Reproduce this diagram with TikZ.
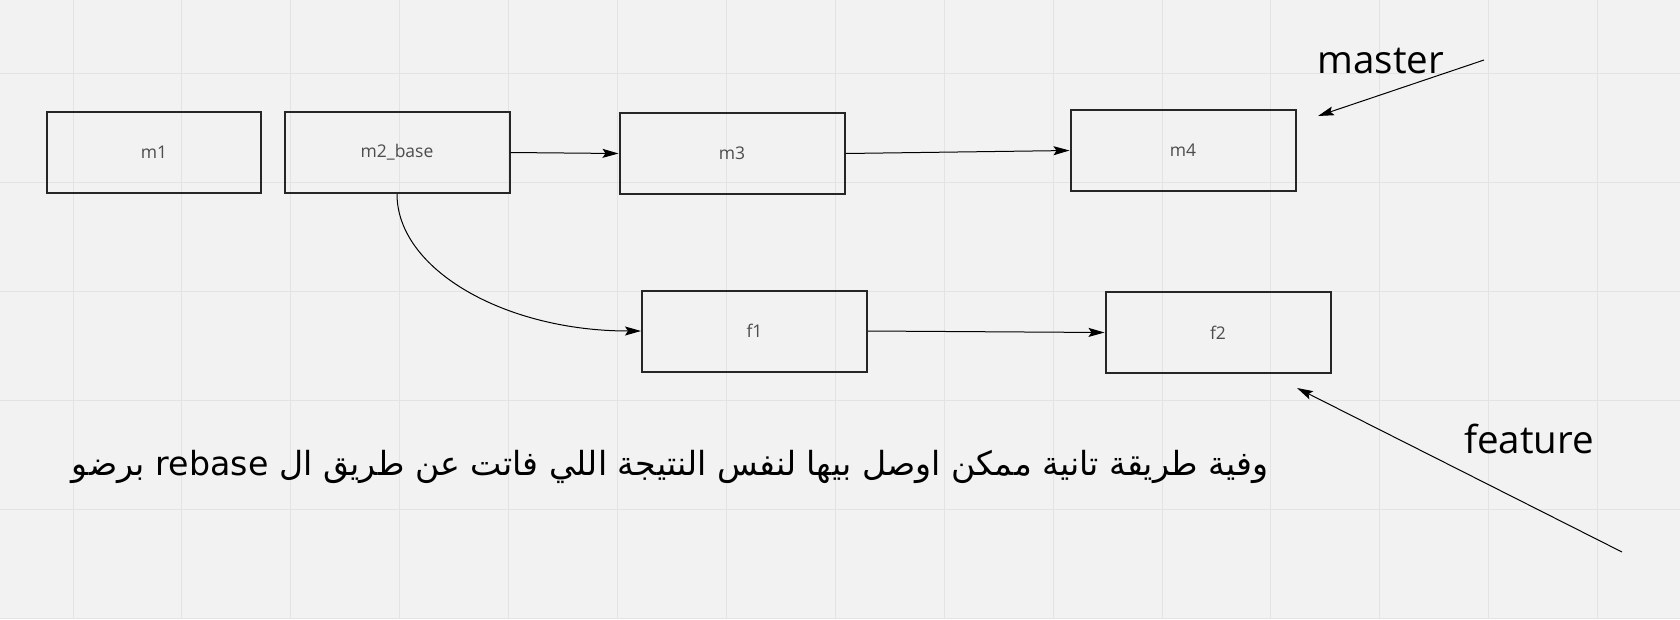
\documentclass[tikz,border=0pt]{standalone}
\usepackage{fontspec}
\setmainfont{Open Sans}
\newfontfamily\arabicfont[Script=Arabic]{DejaVu Sans}
\TeXXeTstate=1
\usetikzlibrary{arrows.meta}
\definecolor{bg}{HTML}{F2F2F2}
\definecolor{gridc}{HTML}{E3E3E3}
\definecolor{boxc}{HTML}{262626}
\definecolor{labc}{HTML}{4D4D4D}
\begin{document}
\begin{tikzpicture}[x=1pt,y=-1pt,
  commit/.style={draw=boxc,line width=2pt,minimum width=225pt,minimum height=81pt,inner sep=0pt,font=\fontsize{17.5}{20}\selectfont,text=labc},
  link/.style={draw=black,line width=1pt,-{Stealth[length=16pt,width=9pt,inset=3pt]}},
  branch/.style={font=\fontsize{38.5}{44}\selectfont,text=black,inner sep=0pt}]
\fill[bg] (0,0) rectangle (1680,619);
\useasboundingbox (0,0) rectangle (1680,619);
\foreach \i in {0,...,14} \draw[gridc,line width=1pt] ({73+108.9*\i},0) -- ({73+108.9*\i},619);
\foreach \j in {0,...,5} \draw[gridc,line width=1pt] (0,{73.6+108.9*\j}) -- (1680,{73.6+108.9*\j});
\node[commit,minimum width=214pt] (m1) at (154,152.5) {m1};
\node[commit] (m2) at (397,152.5) {m2\_base};
\node[commit] (m3) at (732,153.5) {m3};
\node[commit] (m4) at (1183,150.5) {m4};
\node[commit] (f1) at (754.5,331) {f1};
\node[commit] (f2) at (1218,332.5) {f2};
\draw[link] (m2.east) -- (m3.west);
\draw[link] (m3.east) -- (m4.west);
\draw[link] (m2.south) .. controls +(0,75.6) and +(-136,0) .. (f1.west);
\draw[link] (f1.east) -- (f2.west);
\node[branch,anchor=base] (master) at (1381,73) {master};
\coordinate (ms) at (1484,60);
\coordinate (mt) at (1318,116);
\draw[link] (ms) -- (mt);
\node[branch,anchor=base] (feature) at (1529,453) {feature};
\coordinate (fs) at (1622,552);
\coordinate (ft) at (1297,388);
\draw[link] (fs) -- (ft);
\node[inner sep=0pt,anchor=center] (note) at (670,467) {\arabicfont\fontsize{33.2}{38}\selectfont\beginR وفية طريقة تانية ممكن اوصل بيها لنفس النتيجة اللي فاتت عن طريق ال \beginL rebase\endL{} برضو\endR};
\end{tikzpicture}
\end{document}
